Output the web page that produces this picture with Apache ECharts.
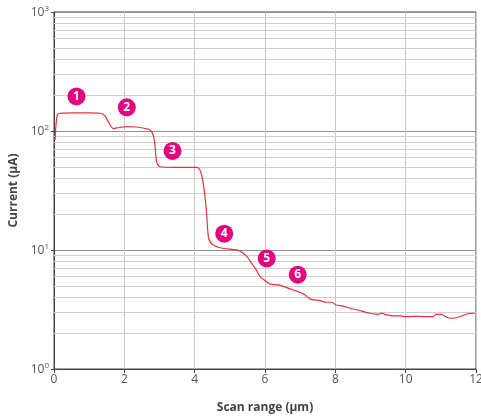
<!DOCTYPE html>
<html>
<head>
<meta charset="utf-8">
<script src="https://cdn.jsdelivr.net/npm/echarts@6/dist/echarts.min.js"></script>
<style>
html,body{margin:0;padding:0;background:#fff;}
#c{width:481px;height:418px;}
</style>
</head>
<body>
<div id="c"></div>
<script>
// Scan position (µm)
var scanX = [0.03, 0.09, 0.17, 0.6, 1.0, 1.31, 1.45, 1.54, 1.69, 1.85, 2.07, 2.35, 2.59, 2.73, 2.82, 2.87, 2.92, 3.02, 3.39, 3.8, 4.06, 4.15, 4.22, 4.28, 4.33, 4.39, 4.45, 4.53, 4.72, 5.1, 5.23, 5.38, 5.5, 5.62, 5.75, 5.86, 6.05, 6.14, 6.43, 6.8, 6.99, 7.14, 7.28, 7.56, 7.75, 7.9, 8.02, 8.22, 8.42, 8.64, 8.98, 9.21, 9.32, 9.41, 9.64, 9.84, 10.03, 10.21, 10.5, 10.78, 10.86, 11.02, 11.17, 11.31, 11.54, 11.73, 11.97];
// Current (µA)
var currentY = [84, 136, 141, 142, 142, 141, 134, 120, 105, 107, 109, 108, 105, 102, 92.6, 76, 55, 50.1, 49.5, 49.5, 49.5, 47, 40, 30, 22, 12.9, 11.6, 11.0, 10.45, 10.1, 10.0, 9.38, 8.7, 7.73, 6.8, 5.97, 5.42, 5.18, 5.05, 4.61, 4.41, 4.19, 3.88, 3.75, 3.64, 3.64, 3.45, 3.38, 3.24, 3.13, 2.94, 2.88, 2.95, 2.88, 2.80, 2.79, 2.75, 2.77, 2.76, 2.75, 2.88, 2.88, 2.72, 2.67, 2.75, 2.90, 2.94];
// Numbered markers
var markerLabels = ['1', '2', '3', '4', '5', '6'];
var markerX = [0.64, 2.07, 3.37, 4.84, 6.05, 6.93];
var markerY = [195, 158, 68, 13.7, 8.5, 6.2];
// Axis settings
var xTicks = [0, 2, 4, 6, 8, 10, 12];
var minorY = [2,3,4,5,6,7,8,9,20,30,40,50,60,70,80,90,200,300,400,500,600,700,800,900];

var chart = echarts.init(document.getElementById('c'), null, {renderer: 'canvas'});
var font = 'Open Sans, Noto Sans, sans-serif';
chart.setOption({
  animation: false,
  backgroundColor: '#fff',
  grid: {left: 54, right: 5, top: 12, bottom: 49, show: true, borderColor: '#444', borderWidth: 1, containLabel: false, outerBoundsMode: 'none'},
  xAxis: {
    type: 'value', min: 0, max: 12, interval: 2,
    name: 'Scan range (µm)', nameLocation: 'middle', nameGap: 33,
    nameTextStyle: {fontFamily: font, fontWeight: 'bold', fontSize: 12, color: '#444'},
    axisLine: {lineStyle: {color: '#444', width: 1}},
    axisTick: {show: true, length: 4, lineStyle: {color: '#444'}},
    axisLabel: {fontFamily: font, fontSize: 12, color: '#555', margin: 5},
    splitLine: {show: true, lineStyle: {color: '#c8c8c8', width: 1}}
  },
  yAxis: {
    type: 'log', logBase: 10, min: 1, max: 1000,
    name: 'Current (µA)', nameLocation: 'middle', nameGap: 34, nameRotate: 90,
    nameTextStyle: {fontFamily: font, fontWeight: 'bold', fontSize: 12, color: '#444'},
    axisLine: {show: true, lineStyle: {color: '#444', width: 1}},
    axisTick: {show: true, length: 3, lineStyle: {color: '#444'}},
    axisLabel: {
      margin: 5,
      formatter: function (v) { return '{b|10}{s|' + Math.round(Math.log10(v)) + '}'; },
      rich: {
        b: {fontFamily: font, fontSize: 12, color: '#555', lineHeight: 14, verticalAlign: 'bottom'},
        s: {fontFamily: font, fontSize: 8, color: '#555', lineHeight: 14, verticalAlign: 'top', padding: [0, 0, 6, 0]}
      }
    },
    splitLine: {show: true, lineStyle: {color: '#909090', width: 1}}
  },
  series: [
    {
      type: 'line', data: scanX.map(function (x, i) { return [x, currentY[i]]; }),
      showSymbol: false, symbol: 'none', smooth: 0.3,
      lineStyle: {color: '#e8303a', width: 1.2},
      z: 5,
      markLine: {
        silent: true, symbol: ['none', 'none'], label: {show: false},
        lineStyle: {color: '#cfcfcf', type: 'solid', width: 1},
        data: minorY.map(function (v) { return {yAxis: v}; }),
        z: 1
      }
    },
    {
      type: 'scatter', symbol: 'circle', symbolSize: 18, z: 10,
      itemStyle: {color: '#e2057f', opacity: 1},
      data: markerX.map(function (x, i) { return {value: [x, markerY[i]], name: markerLabels[i]}; }),
      label: {show: true, position: 'inside', formatter: '{b}', color: '#fff', fontFamily: font, fontWeight: 'bold', fontSize: 12}
    }
  ]
});
</script>
</body>
</html>
